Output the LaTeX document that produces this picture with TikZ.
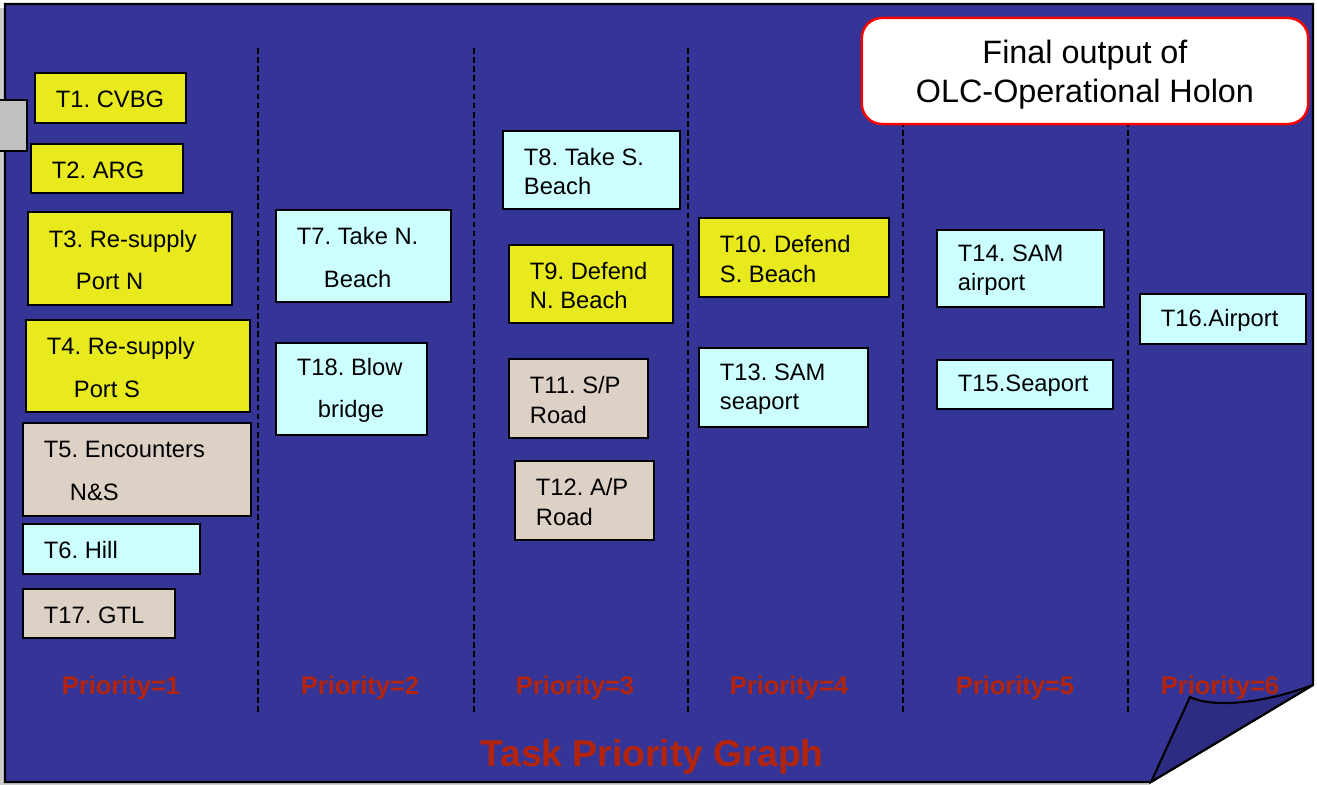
\documentclass[tikz,border=0pt]{standalone}
\usepackage{fontspec}
\setmainfont{Liberation Sans}
\frenchspacing
\definecolor{pageblue}{RGB}{53,53,151}
\definecolor{foldblue}{RGB}{44,44,130}
\definecolor{taskyellow}{RGB}{232,234,30}
\definecolor{taskcyan}{RGB}{204,255,255}
\definecolor{taskbeige}{RGB}{221,209,197}
\definecolor{priored}{RGB}{180,36,10}
\definecolor{tabgray}{RGB}{192,192,192}
\tikzset{
  taskbox/.style={draw=black, line width=0.6pt, inner sep=0pt, outer sep=0pt},
  yellowbox/.style={taskbox, fill=taskyellow},
  cyanbox/.style={taskbox, fill=taskcyan},
  beigebox/.style={taskbox, fill=taskbeige},
  tasktext/.style={anchor=west, align=left, inner xsep=0.21cm, inner ysep=0pt, outer sep=0pt,
    yshift=-0.015cm, font=\fontsize{6.75}{8.3}\selectfont},
  priority/.style={text=priored, font=\bfseries\fontsize{7.25}{8.5}\selectfont},
  divider/.style={dash pattern=on 1.6pt off 1pt, line width=0.45pt},
}
\begin{document}
\begin{tikzpicture}[x=0.01cm, y=-0.01cm]
    \useasboundingbox (0,0) rectangle (1317,785);
    % page with folded corner
    \draw[gray!40, line width=1pt] (2,8) |- (1148,784.5);
    \filldraw[fill=pageblue, draw=black, line width=0.6pt] (5,4) -- (1313,4) -- (1313,685) -- (1151,782) -- (5,782) -- cycle;
    \filldraw[fill=foldblue, draw=black, line width=0.6pt] (1190,697) .. controls (1212,708) and (1262,704) .. (1313,685) -- (1151,782) -- cycle;
    \filldraw[fill=tabgray, draw=black, line width=0.6pt] (-5,100) rectangle (27,151);
    % column dividers
    \foreach \x in {258,474,688,903,1128}
      \draw[divider] (\x,48) -- (\x,713);
    % header
    \node[draw=red, line width=0.7pt, fill=white, rounded corners=0.2cm, minimum width=4.46cm, minimum height=1.06cm] (header) at (1085,71) {};
    \node[align=center, font=\fontsize{9.2}{11.1}\selectfont] (header-txt) at ([yshift=-0.04cm]header.center) {Final output of\\OLC-Operational Holon};
    % priority 1
    \node[yellowbox, minimum width=1.51cm, minimum height=0.50cm] (t1) at (110.5,98) {};
    \node[tasktext] (t1-txt) at (t1.west) {T1. CVBG};
    \node[yellowbox, minimum width=1.52cm, minimum height=0.49cm] (t2) at (107,168.5) {};
    \node[tasktext] (t2-txt) at (t2.west) {T2. ARG};
    \node[yellowbox, minimum width=2.04cm, minimum height=0.93cm] (t3) at (130,258.5) {};
    \node[tasktext] (t3-txt) at (t3.west) {T3. Re-supply\\[0.13cm]\hspace*{0.27cm}Port N};
    \node[yellowbox, minimum width=2.24cm, minimum height=0.92cm] (t4) at (138,366) {};
    \node[tasktext] (t4-txt) at (t4.west) {T4. Re-supply\\[0.13cm]\hspace*{0.27cm}Port S};
    \node[beigebox, minimum width=2.28cm, minimum height=0.93cm] (t5) at (137,469.5) {};
    \node[tasktext] (t5-txt) at (t5.west) {T5. Encounters\\[0.13cm]\hspace*{0.26cm}N\&S};
    \node[cyanbox, minimum width=1.77cm, minimum height=0.50cm] (t6) at (111.5,549) {};
    \node[tasktext] (t6-txt) at (t6.west) {T6. Hill};
    \node[beigebox, minimum width=1.52cm, minimum height=0.49cm] (t17) at (99,613.5) {};
    \node[tasktext] (t17-txt) at (t17.west) {T17. GTL};
    % priority 2
    \node[cyanbox, minimum width=1.75cm, minimum height=0.92cm] (t7) at (363.5,256) {};
    \node[tasktext] (t7-txt) at (t7.west) {T7. Take N.\\[0.13cm]\hspace*{0.27cm}Beach};
    \node[cyanbox, minimum width=1.51cm, minimum height=0.92cm] (t18) at (351.5,389) {};
    \node[tasktext] (t18-txt) at (t18.west) {T18. Blow\\[0.13cm]\hspace*{0.21cm}bridge};
    % priority 3
    \node[cyanbox, minimum width=1.77cm, minimum height=0.78cm] (t8) at (591.5,170) {};
    \node[tasktext] (t8-txt) at (t8.west) {T8. Take S.\\Beach};
    \node[yellowbox, minimum width=1.64cm, minimum height=0.78cm] (t9) at (591,284) {};
    \node[tasktext] (t9-txt) at (t9.west) {T9. Defend\\N. Beach};
    \node[beigebox, minimum width=1.39cm, minimum height=0.79cm] (t11) at (578.5,398.5) {};
    \node[tasktext] (t11-txt) at (t11.west) {T11. S/P\\Road};
    \node[beigebox, minimum width=1.39cm, minimum height=0.79cm] (t12) at (584.5,500.5) {};
    \node[tasktext] (t12-txt) at (t12.west) {T12. A/P\\Road};
    % priority 4
    \node[yellowbox, minimum width=1.90cm, minimum height=0.79cm] (t10) at (794,257.5) {};
    \node[tasktext] (t10-txt) at (t10.west) {T10. Defend\\S. Beach};
    \node[cyanbox, minimum width=1.69cm, minimum height=0.79cm] (t13) at (783.5,387.5) {};
    \node[tasktext] (t13-txt) at (t13.west) {T13. SAM\\seaport};
    % priority 5
    \node[cyanbox, minimum width=1.67cm, minimum height=0.77cm] (t14) at (1020.5,268.5) {};
    \node[tasktext] (t14-txt) at (t14.west) {T14. SAM\\airport};
    \node[cyanbox, minimum width=1.76cm, minimum height=0.49cm] (t15) at (1025,384.5) {};
    \node[tasktext] (t15-txt) at (t15.west) {T15.Seaport};
    % priority 6
    \node[cyanbox, minimum width=1.66cm, minimum height=0.50cm] (t16) at (1223,319) {};
    \node[tasktext] (t16-txt) at (t16.west) {T16.Airport};
    % priority labels
    \node[priority] (p1) at (121,688) {Priority=1};
    \node[priority] (p2) at (360,688) {Priority=2};
    \node[priority] (p3) at (575,688) {Priority=3};
    \node[priority] (p4) at (789,688) {Priority=4};
    \node[priority] (p5) at (1015,688) {Priority=5};
    \node[priority] (p6) at (1220,688) {Priority=6};
    \node[text=priored, font=\bfseries\fontsize{10.6}{12}\selectfont] (title) at (652,757) {Task Priority Graph};
  \end{tikzpicture}
\end{document}
